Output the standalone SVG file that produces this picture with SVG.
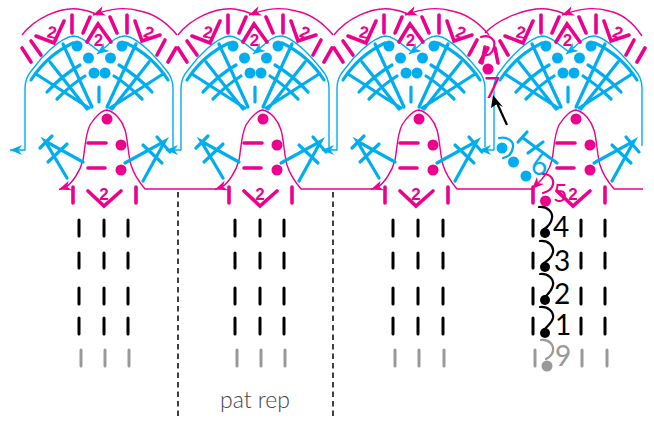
<svg xmlns="http://www.w3.org/2000/svg" width="654" height="422" viewBox="0 0 654 422">
<style>
.p{fill:none;stroke:#ec008c;stroke-width:3.6;stroke-linecap:round;stroke-linejoin:miter}
.b{fill:none;stroke:#00aeef;stroke-width:3.2;stroke-linecap:round}
.tp{fill:none;stroke:#ec008c;stroke-width:1.4;stroke-linejoin:round}
.tb{fill:none;stroke:#00aeef;stroke-width:1.4;stroke-linejoin:round}
.k{fill:none;stroke:#000;stroke-width:3;stroke-linecap:round}
.g{fill:none;stroke:#999;stroke-width:3;stroke-linecap:round}
.dp{fill:#ec008c}.db{fill:#00aeef}.dk{fill:#000}.dg{fill:#999}
.two{font-family:"Liberation Sans",Arial,sans-serif;font-weight:700;font-size:17px;fill:#ec008c;text-anchor:middle}
.num{font-family:"Lato","Open Sans",sans-serif;font-size:28px;font-weight:400}
.chain{fill:none;stroke-width:2.2;stroke-linecap:round}
</style>
<defs>
<marker id="ap" markerUnits="userSpaceOnUse" markerWidth="16" markerHeight="12" refX="12" refY="6" orient="auto"><path d="M0,1 L12,6 L0,11 L3.500,6z" fill="#ec008c"/></marker>
<marker id="ab" markerUnits="userSpaceOnUse" markerWidth="16" markerHeight="12" refX="12" refY="6" orient="auto"><path d="M0,1 L12,6 L0,11 L3.500,6z" fill="#00aeef"/></marker>
<g id="barsL"><path class="p" d="M22,48L31,62M31,41L41,55"/></g>
<g id="topRest"><path class="p" d="M72,15V33M90,17L83,33M110,17L117,33M127,15V33M165,40L157,55M176,48L168,62M36,36L54,43L64,21M87,42L98,24L111,42M135,21L142,41L160,35"/></g>
<g id="fanHalf"><path class="b" d="M31,80C42,63 58,50 73,43M36,74L89,108M50,62L87,109M63,44L92,107M47,92C58,80 68,72 80,65M57,99C66,90 75,82 85,76"/></g>
<g id="fan"><use href="#fanHalf"/><use href="#fanHalf" transform="matrix(-1,0,0,1,199,0)"/><path class="b" d="M99,87V102"/>
<circle class="db" cx="77" cy="46" r="5.500"/><circle class="db" cx="88.500" cy="58" r="5.500"/><circle class="db" cx="94" cy="73" r="5.500"/><circle class="db" cx="105" cy="73" r="5.500"/><circle class="db" cx="110.500" cy="58" r="5.500"/><circle class="db" cx="122" cy="46" r="5.500"/></g>
<g id="branchL"><path class="b" d="M83,162L45,141L67,178M40,148L52,136M48,162L67,144"/></g>
<g id="branchR"><path class="b" d="M125,163L165,141L143,181M157,137L170,152M143,145L162,163"/></g>
<g id="podMarks"><path class="p" d="M88,143H106M88,168H105M136,187V203M88,191L104,206L121,191"/>
<circle class="dp" cx="107" cy="119" r="5.500"/><circle class="dp" cx="121" cy="145" r="5.500"/><circle class="dp" cx="121" cy="170" r="5.500"/></g>
</defs>
<g id="connectors">
<g id="pink-arcs">
<path class="tp" d="M22,35C35,18 60,7 78,9C85,10 92,12 98,15"/><path class="tp" marker-end="url(#ap)" d="M177,35C168,24 155,14 140,11C125,7 112,8 93,15"/>
<path class="tp" d="M178,35C191,18 216,7 234,9C241,10 248,12 254,15"/><path class="tp" marker-end="url(#ap)" d="M333,35C324,24 311,14 296,11C281,7 268,8 249,15"/>
<path class="tp" d="M334,35C347,18 372,7 390,9C397,10 404,12 410,15"/><path class="tp" marker-end="url(#ap)" d="M489,35C480,24 467,14 452,11C437,7 424,8 405,15"/>
<path class="tp" d="M485,33C499,18 529,7 547,9C554,10 561,12 567,15"/><path class="tp" marker-end="url(#ap)" d="M642,36C634,24 624,14 609,11C594,7 581,8 562,15"/>
</g>
<g id="pod-outlines">
<path class="tp" marker-end="url(#ap)" d="M216,189H145C140,183 134,175 131,165C128,155 128,140 125,130C122,120 115,112 107,110C103,110 96,115 90,125C85,135 85,150 83,160C80,172 72,183 66,187L59,189.500"/>
<path class="tp" marker-end="url(#ap)" d="M372,189H301C296,183 290,175 287,165C284,155 284,140 281,130C278,120 271,112 263,110C259,110 252,115 246,125C241,135 241,150 239,160C236,172 228,183 222,187L215,189.500"/>
<path class="tp" marker-end="url(#ap)" d="M534,189H457C452,183 446,175 443,165C440,155 440,140 437,130C434,120 427,112 419,110C415,110 408,115 402,125C397,135 397,150 395,160C392,172 384,183 378,187L371,189.500"/>
<path class="tp" marker-end="url(#ap)" d="M643,189H614C609,183 603,175 600,165C597,155 597,140 594,130C591,120 584,112 576,110C572,110 565,115 559,125C554,135 554,150 552,160C549,172 543,179 536,185L532,189"/>
</g>
<g id="blue-arches">
<path class="tb" marker-end="url(#ab)" d="M100,52C90,45 82,36 73,36C60,38 42,56 32,70Q25,78 25,88V150H10"/><path class="tb" marker-end="url(#ab)" d="M173,147V88Q173,78 166,70C155,56 138,38 126,36C115,35 108,46 97,54"/>
<path class="tb" marker-end="url(#ab)" d="M256,52C246,45 238,36 229,36C216,38 198,56 188,70Q181,78 181,88V150H166"/><path class="tb" marker-end="url(#ab)" d="M329,147V88Q329,78 322,70C311,56 294,38 282,36C271,35 264,46 253,54"/>
<path class="tb" marker-end="url(#ab)" d="M412,52C402,45 394,36 385,36C372,38 354,56 344,70Q337,78 337,88V150H322"/><path class="tb" marker-end="url(#ab)" d="M485,147V88Q485,78 478,70C467,56 450,38 438,36C427,35 420,46 409,54"/>
<path class="tb" marker-end="url(#ab)" d="M569,52C559,45 551,36 542,36C529,38 511,56 501,70Q494,78 494,88V150H479"/><path class="tb" marker-end="url(#ab)" d="M642,146V88Q642,78 635,70C624,56 607,38 595,36C584,35 577,46 566,54"/>
</g>
<path id="pat-arrow" fill="none" stroke="#000" stroke-width="2.200" d="M507,125L497,103"/>
<path id="pat-arrowhead" d="M493,95L503,107L497,104L491,108z" fill="#000"/>
</g>
<g id="motif-1"><use href="#barsL"/><use href="#topRest"/><use href="#fan"/><use href="#branchL"/><use href="#branchR"/><use href="#podMarks"/><path class="p" d="M73,187V203"/>
<text class="two" transform="translate(51,38) rotate(10)">2</text><text class="two" x="98.500" y="46">2</text><text class="two" transform="translate(147,38) rotate(20)">2</text><text class="two" x="104" y="200">2</text></g>
<g id="motif-2" transform="translate(156,0)"><use href="#barsL"/><use href="#topRest"/><use href="#fan"/><use href="#branchL"/><use href="#branchR"/><use href="#podMarks"/><path class="p" d="M73,187V203"/>
<text class="two" transform="translate(51,38) rotate(10)">2</text><text class="two" x="98.500" y="46">2</text><text class="two" transform="translate(147,38) rotate(20)">2</text><text class="two" x="104" y="200">2</text></g>
<g id="motif-3" transform="translate(312,0)"><use href="#barsL"/><use href="#topRest"/><use href="#fan"/><use href="#branchL"/><use href="#branchR"/><use href="#podMarks"/><path class="p" d="M73,187V203"/>
<text class="two" transform="translate(51,38) rotate(10)">2</text><text class="two" x="98.500" y="46">2</text><text class="two" transform="translate(147,38) rotate(20)">2</text><text class="two" x="104" y="200">2</text></g>
<g id="motif-4" transform="translate(469,0)"><use href="#topRest"/><use href="#fan"/><use href="#branchR"/><use href="#podMarks"/>
<text class="two" transform="translate(51,38) rotate(10)">2</text><text class="two" x="98.500" y="46">2</text><text class="two" transform="translate(147,38) rotate(20)">2</text><text class="two" x="104" y="200">2</text></g>
<g id="turn-row">
<path class="p" d="M533,187V203M495,48L498,63M500,41L508,55M485,47L482,63"/>
<path class="chain" stroke="#ec008c" d="M481,37C490,34 496,40 494,47C492,54 488,56 485,55"/>
<circle class="dp" cx="488" cy="69" r="5.500"/>
<text class="num" x="484" y="98" fill="#ec008c">7</text>
<path class="chain" stroke="#00aeef" d="M499,138C508,136 514,142 513,147C512,154 508,157 503,158"/>
<path class="b" d="M557,163L523,138M518,142L527,132M528,153L543,142"/>
<circle class="db" cx="502" cy="148" r="5.500"/><circle class="db" cx="513.500" cy="162" r="5.500"/><circle class="db" cx="526" cy="176" r="5.500"/>
<text class="num" x="531" y="175" fill="#00aeef">6</text>
<path class="chain" stroke="#ec008c" d="M543,174C552,174 555,181 552,187C550,191 546,192 543,193"/>
<circle class="dp" cx="545.500" cy="201" r="5.500"/>
<text class="num" x="553" y="202" font-size="25" style="font-size:25px" fill="#ec008c">5</text>
</g>
<g id="start-chain">
<path class="chain" stroke="#000" d="M539,207C547,206 553,212 552,218C551,225 546,228 543,230"/>
<path class="chain" stroke="#000" d="M540,241C548,240 554,246 553,252C552,258 547,261 544,263"/>
<path class="chain" stroke="#000" d="M540,274C548,273 554,279 553,285C552,291 547,295 544,298"/>
<path class="chain" stroke="#000" d="M540,307C548,306 554,312 553,318C552,323 547,326 544,330"/>
<circle class="dk" cx="545" cy="233" r="5"/><circle class="dk" cx="545" cy="267" r="5"/><circle class="dk" cx="545" cy="300" r="5"/><circle class="dk" cx="545" cy="333" r="5"/>
<text class="num" x="553" y="237" fill="#000">4</text><text class="num" x="554" y="271" fill="#000">3</text><text class="num" x="554" y="304" fill="#000">2</text><text class="num" x="555" y="335" fill="#000">1</text>
<path class="chain" stroke="#999" d="M541,340C549,339 554,345 553,351C552,356 548,358 546,359"/>
<circle class="dg" cx="547" cy="366" r="5.500"/>
<text class="num" x="555" y="366" fill="#999">9</text>
</g>
<g id="foundation">
<path class="k" d="M79,220V236M79,253V268M79,288V304M79,318V334M104,220V236M104,253V268M104,288V304M104,318V334M128,220V236M128,253V268M128,288V304M128,318V334"/>
<path class="k" d="M235,220V236M235,253V268M235,288V304M235,318V334M260,220V236M260,253V268M260,288V304M260,318V334M284,220V236M284,253V268M284,288V304M284,318V334"/>
<path class="k" d="M393,220V236M393,253V268M393,288V304M393,318V334M418,220V236M418,253V268M418,288V304M418,318V334M443,220V236M443,253V268M443,288V304M443,318V334"/>
<path class="k" d="M533,220V236M533,253V268M533,288V304M533,318V334M581,220V236M581,253V268M581,288V304M581,318V334M605,220V236M605,253V268M605,288V304M605,318V334"/>
<path class="g" d="M81,350V366M105,350V366M129,350V366M237,350V366M261,350V366M285,350V366M395,350V366M419,350V366M444,350V366M535,350V366M582,350V366M607,350V366"/>
</g>
<g id="repeat-marks">
<path d="M178,192V416M333,192V416" fill="none" stroke="#000" stroke-width="1.500" stroke-dasharray="5.500 4"/>
<text x="220" y="408" font-family="Lato,'Open Sans',sans-serif" font-size="23" font-weight="300" fill="#444">pat rep</text>
</g>
</svg>
